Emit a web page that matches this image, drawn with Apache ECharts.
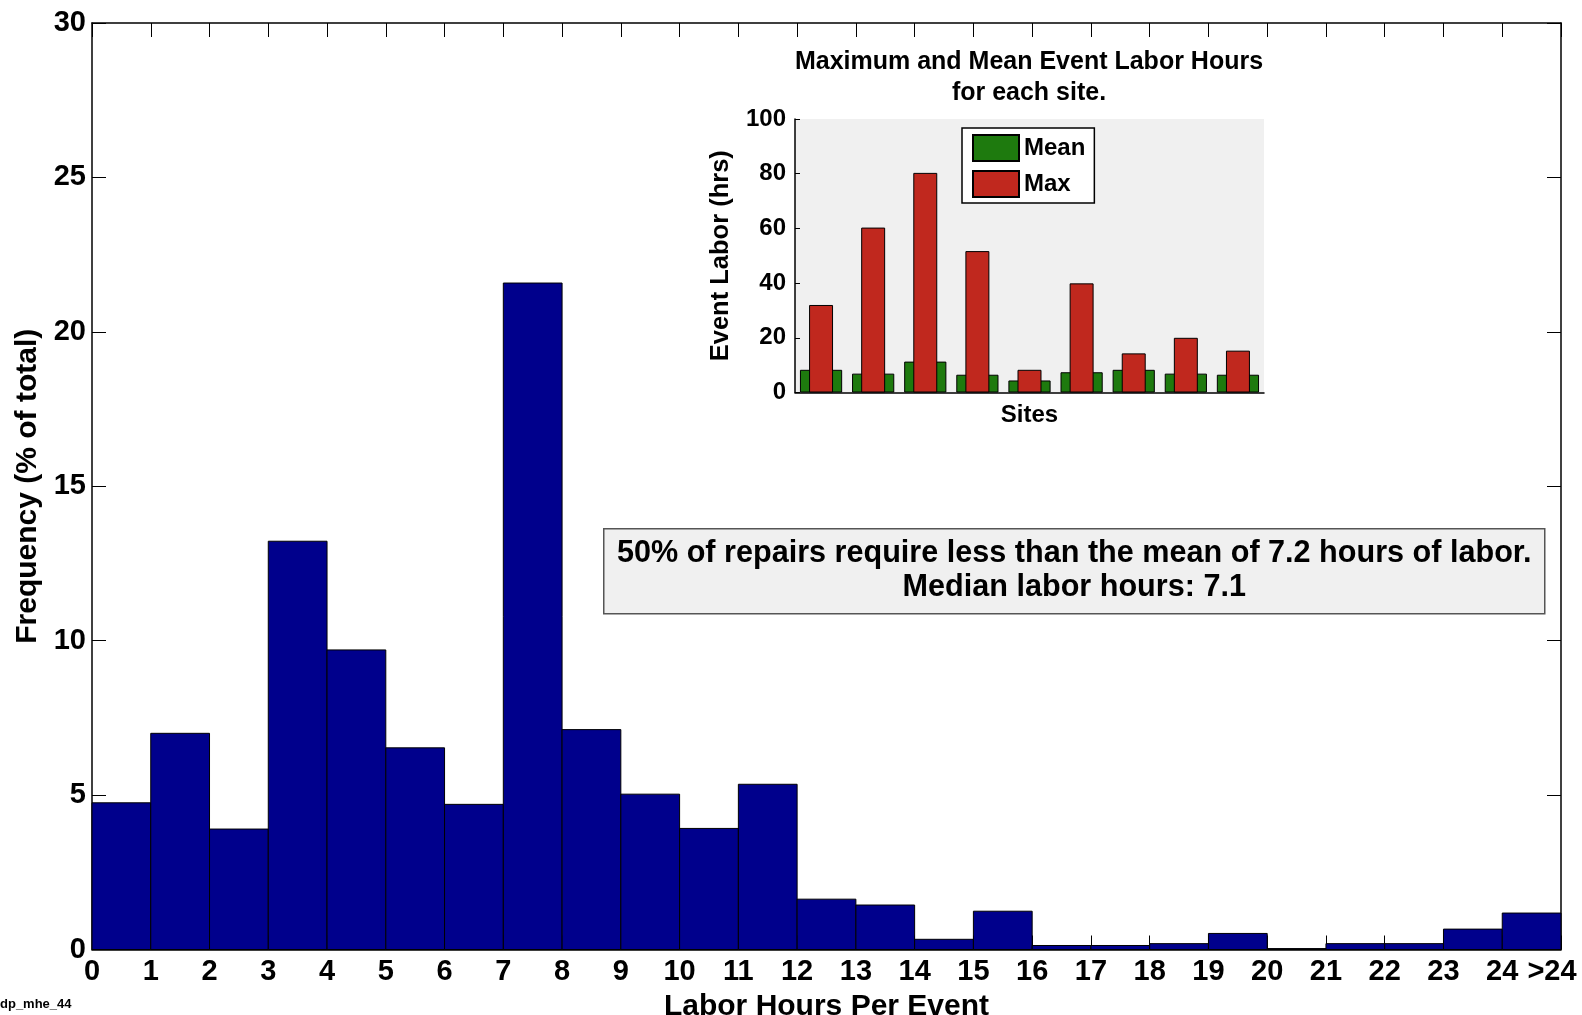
<!DOCTYPE html>
<html>
<head>
<meta charset="utf-8">
<script src="https://cdn.jsdelivr.net/npm/echarts@6/dist/echarts.min.js"></script>
<style>
  html, body { margin: 0; padding: 0; background: #fff; }
  #chart { width: 1582px; height: 1015px; }
</style>
</head>
<body>
<div id="chart"></div>
<script>
// histogram of labor hours per event
const binTickLabels = ['0','1','2','3','4','5','6','7','8','9','10','11','12','13','14','15','16','17','18','19','20','21','22','23','24','>24']
const freqPct = [4.75, 7.0, 3.9, 13.22, 9.7, 6.53, 4.7, 21.58, 7.12, 5.03, 3.92, 5.35, 1.63, 1.44, 0.33, 1.24, 0.13, 0.13, 0.19, 0.52, 0.03, 0.19, 0.19, 0.66, 1.18]

// inset: mean / max per site
const sites = ['1','2','3','4','5','6','7','8','9']
const meanHrs = [8.3, 6.9, 11.3, 6.5, 4.4, 7.4, 8.3, 6.9, 6.5]
const maxHrs = [32.0, 60.3, 80.3, 51.7, 8.3, 39.9, 14.3, 20.0, 15.3]

const FONT = 'Liberation Sans, Arial, sans-serif'
const histData = freqPct.map((v, i) => [i, i + 1, v])
const lastBin = binTickLabels.length - 1

var chartDom = document.getElementById('chart')
var myChart = echarts.init(chartDom)
var option = {
  backgroundColor: '#fff',
  animation: false,
  textStyle: { fontFamily: FONT },
  title: {
    text: 'Maximum and Mean Event Labor Hours\nfor each site.',
    left: 1029,
    top: 47,
    textAlign: 'center',
    padding: 0,
    textStyle: { fontSize: 25, fontWeight: 'bold', color: '#000', lineHeight: 31, fontFamily: FONT }
  },
  legend: {
    data: ['Mean', 'Max'],
    orient: 'vertical',
    left: 962,
    top: 128,
    z: 20,
    padding: [6, 9, 5, 10],
    itemGap: 8,
    itemWidth: 46,
    itemHeight: 26,
    icon: 'rect',
    backgroundColor: '#fff',
    borderColor: '#000',
    borderWidth: 1.5,
    textStyle: { fontSize: 24, fontWeight: 'bold', color: '#000', fontFamily: FONT }
  },
  grid: [
    { left: 92, right: 21, top: 23, bottom: 65.5, outerBoundsMode: 'none' },
    { left: 795, right: 318, top: 119, bottom: 622.5, outerBoundsMode: 'none', show: true, backgroundColor: '#f0f0f0', borderWidth: 0, z: 5 }
  ],
  xAxis: [
    {
      gridIndex: 0, type: 'value', min: 0, max: 25, interval: 1,
      name: 'Labor Hours Per Event', nameLocation: 'middle', nameGap: 35,
      nameTextStyle: { fontSize: 30, fontWeight: 'bold', color: '#000' },
      axisLine: { onZero: false, lineStyle: { color: '#000', width: 1.5 } },
      axisTick: { inside: true, length: 14, lineStyle: { color: '#000' } },
      axisLabel: {
        fontSize: 29, fontWeight: 'bold', color: '#000', margin: 8,
        formatter: v => v === lastBin ? '{last|' + binTickLabels[v] + '}' : binTickLabels[v],
        rich: { last: { fontSize: 29, fontWeight: 'bold', color: '#000', fontFamily: FONT, padding: [0, 18, 0, 0] } }
      },
      splitLine: { show: false }
    },
    {
      gridIndex: 0, type: 'value', min: 0, max: 25, interval: 1, position: 'top',
      axisLine: { onZero: false, lineStyle: { color: '#000', width: 1.5 } },
      axisTick: { inside: true, length: 14, lineStyle: { color: '#000' } },
      axisLabel: { show: false },
      splitLine: { show: false }
    },
    {
      gridIndex: 1, type: 'category', data: sites,
      name: 'Sites', nameLocation: 'middle', nameGap: 11,
      nameTextStyle: { fontSize: 24, fontWeight: 'bold', color: '#000' },
      axisLine: { onZero: false, lineStyle: { color: '#000', width: 1.5 } },
      axisTick: { show: false },
      axisLabel: { show: false },
      z: 6
    },
    {
      gridIndex: 1, type: 'category', data: sites, show: false
    }
  ],
  yAxis: [
    {
      gridIndex: 0, type: 'value', min: 0, max: 30, interval: 5,
      name: 'Frequency (% of total)', nameLocation: 'middle', nameGap: 47,
      nameTextStyle: { fontSize: 30, fontWeight: 'bold', color: '#000' },
      axisLine: { show: true, onZero: false, lineStyle: { color: '#000', width: 1.5 } },
      axisTick: { show: true, inside: true, length: 14, lineStyle: { color: '#000' } },
      axisLabel: { fontSize: 29, fontWeight: 'bold', color: '#000', margin: 6 },
      splitLine: { show: false }
    },
    {
      gridIndex: 0, type: 'value', min: 0, max: 30, interval: 5, position: 'right',
      axisLine: { show: true, onZero: false, lineStyle: { color: '#000', width: 1.5 } },
      axisTick: { show: true, inside: true, length: 14, lineStyle: { color: '#000' } },
      axisLabel: { show: false },
      splitLine: { show: false }
    },
    {
      gridIndex: 1, type: 'value', min: 0, max: 100, interval: 20,
      name: 'Event Labor (hrs)', nameLocation: 'middle', nameGap: 61,
      nameTextStyle: { fontSize: 25.5, fontWeight: 'bold', color: '#000' },
      axisLine: { show: true, onZero: false, lineStyle: { color: '#000', width: 1.5 } },
      axisTick: { show: true, inside: true, length: 5, lineStyle: { color: '#000' } },
      axisLabel: { fontSize: 24, fontWeight: 'bold', color: '#000', margin: 9 },
      splitLine: { show: false },
      z: 6
    }
  ],
  series: [
    {
      name: 'Frequency',
      type: 'custom',
      xAxisIndex: 0,
      yAxisIndex: 0,
      encode: { x: [0, 1], y: 2 },
      data: histData,
      renderItem: function (params, api) {
        var p0 = api.coord([api.value(0), api.value(2)])
        var p1 = api.coord([api.value(1), 0])
        return {
          type: 'rect',
          shape: { x: p0[0], y: p0[1], width: p1[0] - p0[0], height: p1[1] - p0[1] },
          style: { fill: '#00008c', stroke: '#000', lineWidth: 1 }
        }
      },
      z: 2
    },
    {
      // binds the mirrored top / right axes of the main box
      name: 'box',
      type: 'line',
      xAxisIndex: 1,
      yAxisIndex: 1,
      data: [],
      silent: true
    },
    {
      name: 'Mean',
      type: 'bar',
      xAxisIndex: 2,
      yAxisIndex: 2,
      data: meanHrs,
      barWidth: '81%',
      itemStyle: { color: '#1e7a0e', borderColor: '#000', borderWidth: 1 },
      z: 7
    },
    {
      name: 'Max',
      type: 'bar',
      xAxisIndex: 3,
      yAxisIndex: 2,
      data: maxHrs,
      barWidth: '46%',
      itemStyle: { color: '#c0281e', borderColor: '#000', borderWidth: 1 },
      z: 8
    }
  ],
  graphic: [
    {
      type: 'group',
      left: 603,
      top: 528,
      z: 10,
      children: [
        {
          type: 'rect',
          shape: { x: 0, y: 0, width: 941, height: 85 },
          style: { fill: '#f0f0f0', stroke: '#555', lineWidth: 1.5 }
        },
        {
          type: 'text',
          x: 470.5,
          y: 42,
          style: {
            text: '50% of repairs require less than the mean of 7.2 hours of labor.\nMedian labor hours: 7.1',
            font: 'bold 30.6px ' + FONT,
            fill: '#000',
            align: 'center',
            verticalAlign: 'middle',
            lineHeight: 34
          }
        }
      ]
    },
    {
      type: 'text',
      left: 0,
      top: 998,
      style: { text: 'dp_mhe_44', font: 'bold 13px ' + FONT, fill: '#000' }
    }
  ]
}
option && myChart.setOption(option)
</script>
</body>
</html>
